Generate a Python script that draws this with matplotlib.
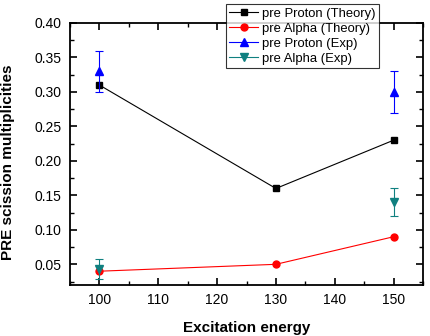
import matplotlib.pyplot as plt
from matplotlib.ticker import MultipleLocator
from matplotlib.lines import Line2D

plt.rcParams['font.family'] = ['Liberation Sans', 'DejaVu Sans']

energia = [100, 130, 150]
proton_teoria = [0.31, 0.16, 0.23]
alpha_teoria = [0.04, 0.05, 0.09]

energia_exp = [100, 150]
proton_exp = [0.33, 0.30]
proton_exp_err = [0.03, 0.03]
alpha_exp = [0.043, 0.14]
alpha_exp_err = [0.015, 0.02]

fig = plt.figure(figsize=(4.30, 3.36), dpi=100)
ax = fig.add_axes([70 / 430, 1 - 285 / 336, 353 / 430, 262 / 336])

ax.plot(energia, proton_teoria, color='black', lw=0.8, marker='s', ms=5,
        label='pre Proton (Theory)')
ax.plot(energia, alpha_teoria, color='red', lw=0.8, marker='o', ms=5,
        label='pre Alpha (Theory)')
ax.errorbar(energia_exp, proton_exp, yerr=proton_exp_err, color='blue', marker='^',
            ms=6, ls='none', elinewidth=0.8, capsize=3, capthick=0.8,
            label='pre Proton (Exp)')
ax.errorbar(energia_exp, alpha_exp, yerr=alpha_exp_err, color='#108080', marker='v',
            ms=6, ls='none', elinewidth=0.8, capsize=3, capthick=0.8,
            label='pre Alpha (Exp)')

ax.set_xlim(95, 155)
ax.set_ylim(0.02, 0.40)
ax.xaxis.set_major_locator(MultipleLocator(10))
ax.xaxis.set_minor_locator(MultipleLocator(5))
ax.yaxis.set_major_locator(MultipleLocator(0.05))
ax.yaxis.set_minor_locator(MultipleLocator(0.025))
ax.yaxis.set_major_formatter(plt.FormatStrFormatter('%.2f'))
ax.tick_params(which='both', direction='in', top=True, right=True, labelsize=10)
ax.tick_params(which='major', length=5, width=1.2, pad=6)
ax.tick_params(which='minor', length=3, width=1)
for s in ax.spines.values():
    s.set_linewidth(1.3)

ax.set_xlabel('Excitation energy', fontsize=11, fontweight='bold', labelpad=10)
ax.set_ylabel('PRE scission multiplicities', fontsize=11, fontweight='bold')
ax.yaxis.set_label_coords(-55 / 353, 0.47)

# handles con línea para el legend
handles = [
    Line2D([], [], color='black', lw=0.8, marker='s', ms=5),
    Line2D([], [], color='red', lw=0.8, marker='o', ms=5),
    Line2D([], [], color='blue', lw=0.8, marker='^', ms=6),
    Line2D([], [], color='#108080', lw=0.8, marker='v', ms=6),
]
labels = ['pre Proton (Theory)', 'pre Alpha (Theory)', 'pre Proton (Exp)', 'pre Alpha (Exp)']
leg = fig.legend(handles, labels, loc='lower left', bbox_to_anchor=(226 / 430, 1 - 68 / 336),
                 fontsize=9.4, frameon=True, fancybox=False, edgecolor='black',
                 handlelength=2.2, handletextpad=0.3, borderpad=0.25, labelspacing=0.22,
                 borderaxespad=0)
leg.get_frame().set_linewidth(0.8)

fig.savefig('out.png', dpi=100)
